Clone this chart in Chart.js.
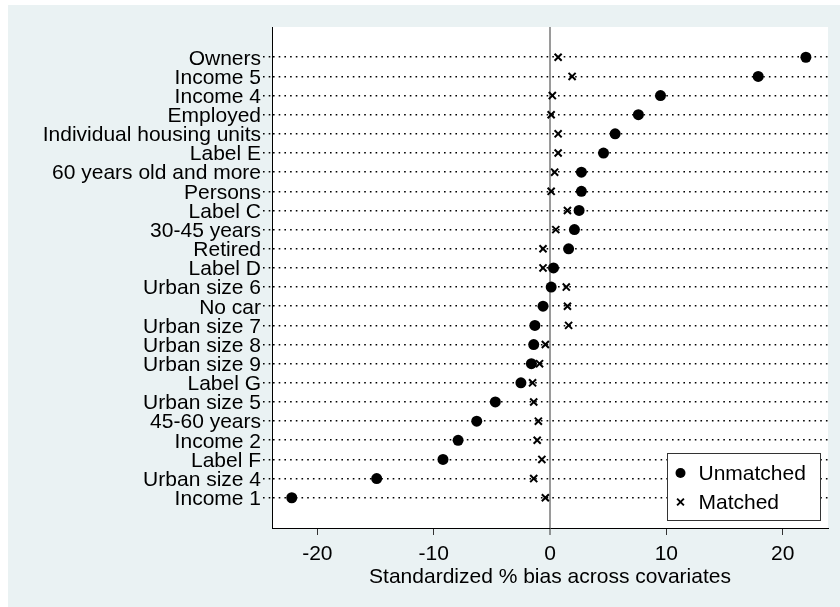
<!DOCTYPE html>
<html>
<head>
<meta charset="utf-8">
<script src="https://cdn.jsdelivr.net/npm/chart.js@4/dist/chart.umd.min.js"></script>
<style>
  html, body { margin: 0; padding: 0; background: #ffffff; }
  #wrap { width: 840px; height: 607px; }
</style>
</head>
<body>
<div id="wrap"><canvas id="chart" width="840" height="607"></canvas></div>
<script>
// Covariates, top to bottom
const covariates = [
  'Owners', 'Income 5', 'Income 4', 'Employed', 'Individual housing units',
  'Label E', '60 years old and more', 'Persons', 'Label C', '30-45 years',
  'Retired', 'Label D', 'Urban size 6', 'No car', 'Urban size 7',
  'Urban size 8', 'Urban size 9', 'Label G', 'Urban size 5', '45-60 years',
  'Income 2', 'Label F', 'Urban size 4', 'Income 1'
];

// Standardized % bias before matching
const unmatchedBias = [
  22.0, 17.9, 9.5, 7.6, 5.6,
  4.6, 2.7, 2.7, 2.5, 2.1,
  1.6, 0.3, 0.1, -0.6, -1.3,
  -1.4, -1.6, -2.5, -4.7, -6.3,
  -7.9, -9.2, -14.9, -22.2
];

// Standardized % bias after matching
const matchedBias = [
  0.7, 1.9, 0.2, 0.1, 0.7,
  0.7, 0.4, 0.1, 1.5, 0.5,
  -0.6, -0.6, 1.4, 1.5, 1.6,
  -0.4, -0.9, -1.5, -1.4, -1.0,
  -1.1, -0.7, -1.4, -0.4
];

const xTickValues = [-20, -10, 0, 10, 20];
const xLimit = 23.9;

const seriesNames = ['Unmatched', 'Matched'];

const FONT = '"Liberation Sans", Arial, Helvetica, sans-serif';
const BG_OUTER = '#eaf2f3';

Chart.defaults.font.family = FONT;
Chart.defaults.color = '#000000';

// Panel backgrounds: outer tinted region and white plot region
const backdrop = {
  id: 'backdrop',
  beforeDraw(chart) {
    const { ctx, width, height, chartArea: a } = chart;
    ctx.save();
    ctx.fillStyle = '#ffffff';
    ctx.fillRect(0, 0, width, height);
    ctx.fillStyle = BG_OUTER;
    ctx.fillRect(8, 5, width - 8, height - 5);
    ctx.fillStyle = '#ffffff';
    ctx.fillRect(a.left, a.top, a.right - a.left, a.bottom - a.top);
    ctx.restore();
  }
};

// Boxed legend placed inside the lower-right corner of the plot
const boxLegend = {
  id: 'boxLegend',
  afterDraw(chart) {
    const { ctx, chartArea: a } = chart;
    const w = 153, h = 67;
    const x = Math.round(a.right - 161) + 0.5;
    const y = Math.round(a.bottom - 75) + 0.5;
    ctx.save();
    ctx.fillStyle = '#ffffff';
    ctx.fillRect(x, y, w, h);
    ctx.strokeStyle = '#333333';
    ctx.lineWidth = 1;
    ctx.strokeRect(x, y, w, h);

    const mx = x + 13;
    const rows = [y + 19.5, y + 48.5];

    // circle marker
    ctx.fillStyle = '#000000';
    ctx.beginPath();
    ctx.arc(mx, rows[0], 5, 0, Math.PI * 2);
    ctx.fill();

    // x marker
    const r = 3.4;
    ctx.strokeStyle = '#000000';
    ctx.lineWidth = 1.9;
    ctx.beginPath();
    ctx.moveTo(mx - r, rows[1] - r);
    ctx.lineTo(mx + r, rows[1] + r);
    ctx.moveTo(mx - r, rows[1] + r);
    ctx.lineTo(mx + r, rows[1] - r);
    ctx.stroke();

    ctx.font = '21px ' + FONT;
    ctx.fillStyle = '#000000';
    ctx.textAlign = 'left';
    ctx.textBaseline = 'middle';
    ctx.fillText(seriesNames[0], x + 31, rows[0] + 1);
    ctx.fillText(seriesNames[1], x + 31, rows[1] + 1);
    ctx.restore();
  }
};

const toPoints = (vals) => vals.map((v, i) => ({ x: v, y: i }));

new Chart(document.getElementById('chart'), {
  type: 'scatter',
  data: {
    datasets: [
      {
        label: seriesNames[1],
        data: toPoints(matchedBias),
        pointStyle: 'crossRot',
        radius: 5,
        borderWidth: 2,
        borderColor: '#000000',
        backgroundColor: '#000000',
        order: 0
      },
      {
        label: seriesNames[0],
        data: toPoints(unmatchedBias),
        pointStyle: 'circle',
        radius: 5.5,
        borderWidth: 0,
        borderColor: '#000000',
        backgroundColor: '#000000',
        order: 1
      }
    ]
  },
  options: {
    responsive: false,
    animation: false,
    devicePixelRatio: 1,
    layout: { padding: { left: 0, top: 27, right: 12, bottom: 0 } },
    plugins: {
      legend: { display: false },
      tooltip: { enabled: false }
    },
    scales: {
      x: {
        type: 'linear',
        position: 'bottom',
        min: -xLimit,
        max: xLimit,
        afterBuildTicks: (axis) => { axis.ticks = xTickValues.map(v => ({ value: v })); },
        afterFit: (axis) => { axis.height = 79; },
        ticks: {
          font: { size: 21 },
          color: '#000000',
          padding: 7,
          maxRotation: 0,
          autoSkip: false
        },
        grid: {
          drawOnChartArea: true,
          color: (c) => (c.tick && c.tick.value === 0 ? '#9a9a9a' : 'rgba(0,0,0,0)'),
          lineWidth: (c) => (c.tick && c.tick.value === 0 ? 2 : 1),
          tickColor: '#333333',
          tickLength: 7,
          tickWidth: 1
        },
        border: { display: true, color: '#000000', width: 1 },
        title: {
          display: true,
          text: 'Standardized % bias across covariates',
          font: { size: 21 },
          color: '#000000',
          padding: { top: 0, bottom: 17 }
        }
      },
      y: {
        type: 'linear',
        position: 'left',
        reverse: true,
        min: -1.58,
        max: covariates.length + 0.58,
        afterBuildTicks: (axis) => { axis.ticks = covariates.map((_, i) => ({ value: i })); },
        afterFit: (axis) => { axis.width = 272; },
        ticks: {
          font: { size: 21 },
          color: '#000000',
          padding: 2,
          labelOffset: 1.5,
          autoSkip: false,
          callback: (v) => covariates[v]
        },
        grid: {
          color: '#000000',
          lineWidth: 1.6,
          tickColor: '#000000',
          tickLength: 9,
          tickWidth: 1.6,
          tickBorderDash: [1.6, 4.1]
        },
        border: { display: true, color: '#000000', width: 1, dash: [1.6, 4.1] }
      }
    }
  },
  plugins: [backdrop, boxLegend]
});
</script>
</body>
</html>
